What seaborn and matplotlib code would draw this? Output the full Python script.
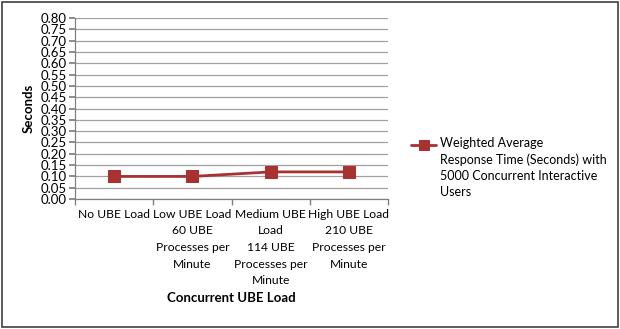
import matplotlib
matplotlib.use("Agg")
import matplotlib.pyplot as plt
import seaborn as sns
import pandas as pd
import numpy as np
from matplotlib.patches import Rectangle
from matplotlib.lines import Line2D
from matplotlib.offsetbox import DrawingArea

categories = ["No UBE Load",
              "Low UBE Load\n60 UBE\nProcesses per\nMinute",
              "Medium UBE\nLoad\n114 UBE\nProcesses per\nMinute",
              "High UBE Load\n210 UBE\nProcesses per\nMinute"]
values = [0.10, 0.10, 0.12, 0.12]
yticks = [round(0.05 * i, 2) for i in range(17)]
series_name = "Weighted Average\nResponse Time (Seconds) with\n5000 Concurrent Interactive\nUsers"

sns.set_theme(style="white")
plt.rcParams['font.family'] = ['Lato', 'DejaVu Sans']
plt.rcParams['text.color'] = 'black'
plt.rcParams['axes.labelcolor'] = 'black'
plt.rcParams['xtick.color'] = 'black'
plt.rcParams['ytick.color'] = 'black'

fig = plt.figure(figsize=(6.2, 3.29), dpi=100)
ax = fig.add_axes([0.121, 0.395, 0.505, 0.55])

df = pd.DataFrame({"x": range(len(categories)), "y": values, "s": series_name})
color = "#A83232"
sns.lineplot(data=df, x="x", y="y", hue="s", palette=[color], marker="s",
             markersize=8, markeredgecolor=color, linewidth=2, ax=ax)

ax.set_xlim(-0.5, len(categories) - 0.5)
ax.set_ylim(0, 0.8)
ax.set_yticks(yticks)
ax.set_yticklabels([f"{v:.2f}" for v in yticks], fontsize=9.5)
ax.yaxis.grid(True, color="#A0A0A0", linewidth=0.9)
ax.set_axisbelow(True)
ax.set_xticks(range(len(categories)))
ax.set_xticklabels(categories, fontsize=8.7, linespacing=1.62)
ax.set_xticks([i - 0.5 for i in range(len(categories) + 1)], minor=True)
ax.tick_params(axis="x", which="major", length=0, pad=7)
ax.tick_params(axis="x", which="minor", length=4, color="#808080", direction="out", bottom=True)
ax.tick_params(axis="y", length=4, color="#808080", direction="out", left=True, pad=2, labelcolor="black")

for s in ["top", "right"]:
    ax.spines[s].set_visible(False)
for s in ["left", "bottom"]:
    ax.spines[s].set_color("#808080")
    ax.spines[s].set_linewidth(0.9)

ax.set_xlabel("Concurrent UBE Load", fontsize=9.5, fontweight="bold", labelpad=4)
ax.set_ylabel("Seconds", fontsize=9.5, fontweight="bold", labelpad=4)

leg = ax.legend(loc="upper left", bbox_to_anchor=(0.655, 0.598), bbox_transform=fig.transFigure,
                frameon=False, fontsize=9, handlelength=2.0, handletextpad=0.3,
                borderaxespad=0)
for t in leg.get_texts():
    t.set_linespacing(1.4)
    t.set_color("black")

# move the legend handle up to the first text line
def shift_handles(box, dy):
    for ch in box.get_children():
        if isinstance(ch, DrawingArea):
            for a in ch.get_children():
                if isinstance(a, Line2D):
                    a.set_ydata(np.asarray(a.get_ydata()) + dy)
                    a.set_markersize(6.5)
        elif hasattr(ch, "get_children"):
            shift_handles(ch, dy)

shift_handles(leg._legend_box, 17)

fig.patches.append(Rectangle((0.004, 0.006), 0.992, 0.988, transform=fig.transFigure,
                             fill=False, edgecolor="#404040", linewidth=1.2))

fig.savefig("out.png", dpi=100)
